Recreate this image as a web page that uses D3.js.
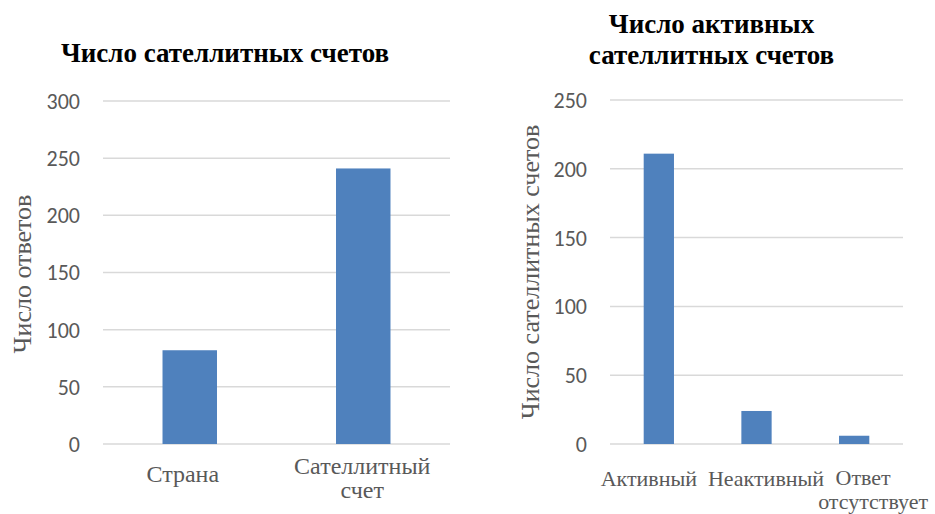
<!DOCTYPE html>
<html><head><meta charset="utf-8">
<script src="https://cdn.jsdelivr.net/npm/d3@7"></script>
<style>body{margin:0;background:#fff}svg{display:block}</style>
</head><body>
<svg id="c" width="935" height="514"></svg>
<script>
const leftCategories = [["Страна"], ["Сателлитный", "счет"]];
const leftValues = [82, 241];
const leftTicks = [0, 50, 100, 150, 200, 250, 300];
const leftTitle = ["Число сателлитных счетов"];
const leftYLabel = "Число ответов";

const rightCategories = [["Активный"], ["Неактивный"], ["Ответ", "отсутствует"]];
const rightValues = [211, 24, 6];
const rightTicks = [0, 50, 100, 150, 200, 250];
const rightTitle = ["Число активных", "сателлитных счетов"];
const rightYLabel = "Число сателлитных счетов";

const svg = d3.select("#c");
const serif = "'Liberation Serif','Times New Roman',serif";
const sans = "Carlito,'Open Sans','Liberation Sans',sans-serif";

function panel(o) {
  const g = svg.append("g");
  const x = d3.scaleBand().domain(o.cats.map((d, i) => i)).range([o.x0, o.x1])
    .paddingInner(o.pad).paddingOuter(o.pad / 2);
  const y = d3.scaleLinear().domain([0, o.ticks[o.ticks.length - 1]]).range([o.y0, o.y1]);
  g.selectAll("line.grid").data(o.ticks).join("line")
    .attr("x1", o.x0).attr("x2", o.x1)
    .attr("y1", d => y(d)).attr("y2", d => y(d))
    .attr("stroke", "#d9d9d9").attr("stroke-width", 1.5);
  g.selectAll("text.tick").data(o.ticks).join("text")
    .attr("x", o.x0 - 23).attr("y", d => y(d)).attr("dy", "0.36em")
    .attr("text-anchor", "end").attr("font-family", sans).attr("font-size", 22)
    .attr("fill", "#595959").text(d => d);
  g.selectAll("rect").data(o.vals).join("rect")
    .attr("x", (d, i) => x(i)).attr("width", x.bandwidth())
    .attr("y", d => y(d)).attr("height", d => y(0) - y(d))
    .attr("fill", "#4f81bd");
  o.cats.forEach((lines, i) => {
    const base = x(i) + x.bandwidth() / 2;
    const start = lines.length > 1 ? o.catY2 : o.catY;
    lines.forEach((t, j) => {
      g.append("text").attr("x", base + o.catShift[i][j]).attr("y", start + j * o.lineH)
        .attr("text-anchor", "middle").attr("font-family", serif).attr("font-size", o.catFs)
        .attr("fill", "#595959").text(t);
    });
  });
  g.append("text").attr("transform", `translate(${o.ylx},${o.ylc}) rotate(-90)`)
    .attr("text-anchor", "middle").attr("font-family", serif).attr("font-size", 26)
    .attr("fill", "#595959").text(o.ylabel);
  o.title.forEach((t, j) => {
    g.append("text").attr("x", o.tx).attr("y", o.ty + j * 31)
      .attr("text-anchor", "middle").attr("font-family", serif).attr("font-size", 27)
      .attr("font-weight", "bold").attr("fill", "#000").text(t);
  });
}

panel({cats: leftCategories, vals: leftValues, ticks: leftTicks, x0: 103, x1: 450, y0: 444, y1: 101,
  pad: 0.686, catY: 482, catY2: 474, lineH: 24, catFs: 24, catShift: [[-7], [-1, -1]],
  ylabel: leftYLabel, ylx: 31, ylc: 274, title: leftTitle, tx: 225, ty: 62});
panel({cats: rightCategories, vals: rightValues, ticks: rightTicks, x0: 610, x1: 903, y0: 444, y1: 100,
  pad: 0.69, catY: 486, catY2: 485, lineH: 24, catFs: 22, catShift: [[-10], [9.5], [9, 19]],
  ylabel: rightYLabel, ylx: 539, ylc: 272, title: rightTitle, tx: 711.5, ty: 32.5});
</script>
</body></html>
